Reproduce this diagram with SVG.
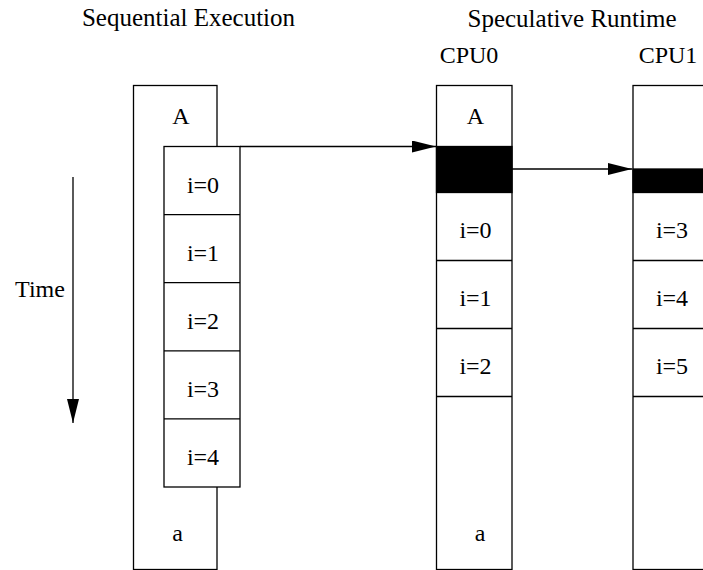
<svg xmlns="http://www.w3.org/2000/svg" width="703" height="570" viewBox="0 0 703 570">
  <style>
    .box { fill: #fff; stroke: #000; stroke-width: 1.3; }
    .busy { fill: #000; stroke: #000; stroke-width: 1.3; }
    .line { fill: none; stroke: #000; stroke-width: 1.3; }
    text { font-family: "Liberation Serif", "Times New Roman", serif; font-size: 24px; fill: #000; text-anchor: middle; }
    .title { font-size: 25px; }
  </style>
  <defs>
    <marker id="head" viewBox="0 0 24 12" refX="24" refY="6" markerWidth="24" markerHeight="12" markerUnits="userSpaceOnUse" orient="auto">
      <path d="M0,0 L24,6 L0,12 Z" fill="#000"/>
    </marker>
  </defs>

  <!-- headings -->
  <text class="title" x="188.5" y="26">Sequential Execution</text>
  <text class="title" x="572" y="27">Speculative Runtime</text>
  <text x="469" y="63">CPU0</text>
  <text x="668" y="63">CPU1</text>

  <!-- time axis -->
  <g id="time">
    <line class="line" x1="73" y1="177" x2="73" y2="423" marker-end="url(#head)"/>
    <text x="40" y="297">Time</text>
  </g>

  <!-- sequential execution: outer frame with loop iterations inset -->
  <g id="seq">
    <rect class="box" x="133.5" y="85.5" width="83.5" height="484"/>
    <text x="181" y="124">A</text>
    <text x="177.5" y="541">a</text>
  </g>
  <g id="seq-iters">
    <rect class="box" x="164" y="146.5" width="76" height="340.5"/>
    <line class="line" x1="164" y1="214.6" x2="240" y2="214.6"/>
    <line class="line" x1="164" y1="282.7" x2="240" y2="282.7"/>
    <line class="line" x1="164" y1="350.8" x2="240" y2="350.8"/>
    <line class="line" x1="164" y1="418.9" x2="240" y2="418.9"/>
    <text x="203" y="192.5">i=0</text>
    <text x="203" y="260.6">i=1</text>
    <text x="203" y="328.7">i=2</text>
    <text x="203" y="396.8">i=3</text>
    <text x="203" y="464.9">i=4</text>
  </g>

  <!-- CPU0 timeline -->
  <g id="cpu0">
    <rect class="box" x="436.5" y="85.5" width="75.5" height="484"/>
    <rect class="busy" x="436.5" y="146.5" width="75.5" height="46"/>
    <line class="line" x1="436.5" y1="260.5" x2="512" y2="260.5"/>
    <line class="line" x1="436.5" y1="328.5" x2="512" y2="328.5"/>
    <line class="line" x1="436.5" y1="396.5" x2="512" y2="396.5"/>
    <text x="475.5" y="124">A</text>
    <text x="475.5" y="238">i=0</text>
    <text x="475.5" y="306">i=1</text>
    <text x="475.5" y="374">i=2</text>
    <text x="480" y="541">a</text>
  </g>

  <!-- CPU1 timeline -->
  <g id="cpu1">
    <rect class="box" x="633" y="85.5" width="80" height="484"/>
    <rect class="busy" x="633" y="169" width="80" height="23.5"/>
    <line class="line" x1="633" y1="260.5" x2="713" y2="260.5"/>
    <line class="line" x1="633" y1="328.5" x2="713" y2="328.5"/>
    <line class="line" x1="633" y1="396.5" x2="713" y2="396.5"/>
    <text x="672" y="238">i=3</text>
    <text x="672" y="306">i=4</text>
    <text x="672" y="374">i=5</text>
  </g>

  <!-- spawn arrows -->
  <g id="connectors">
    <line class="line" x1="240" y1="146.5" x2="436" y2="146.5" marker-end="url(#head)"/>
    <line class="line" x1="512" y1="169" x2="632" y2="169" marker-end="url(#head)"/>
  </g>
</svg>
